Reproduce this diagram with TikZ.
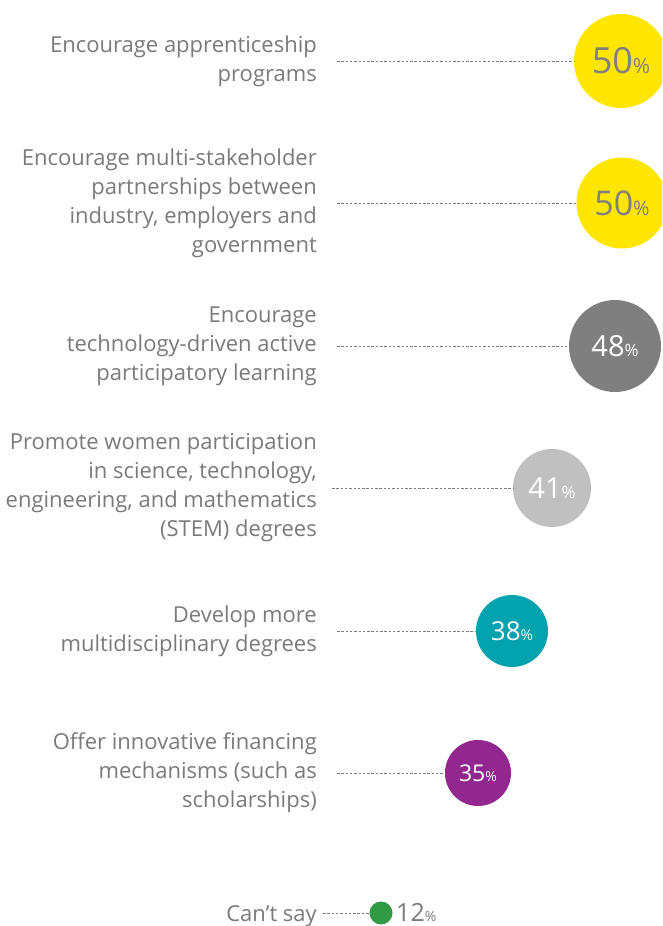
\documentclass[tikz,border=0pt]{standalone}
\usepackage{fontspec}
\setmainfont{Open Sans}
\usetikzlibrary{positioning}

\definecolor{eyyellow}{HTML}{FFE600}
\definecolor{darkgrey}{HTML}{7F7F7F}
\definecolor{lightgrey}{HTML}{C0C0C0}
\definecolor{eyteal}{HTML}{00A3AE}
\definecolor{eypurple}{HTML}{91278F}
\definecolor{eygreen}{HTML}{329A45}
\definecolor{txtgrey}{HTML}{7A7A7A}

\tikzset{
  lbl/.style={anchor=east, align=right, text=txtgrey, inner sep=0pt,
    font=\fontsize{22}{29}\selectfont},
  ball/.style={circle, fill=#1, inner sep=0pt, text=white},
  lead/.style={draw=txtgrey, dash pattern=on 2.5pt off 1.8pt, line width=0.7pt},
}
% number with a small percent sign
\newcommand{\pct}[3]{{\fontsize{#1}{#1}\selectfont #3}{\fontsize{#2}{#2}\selectfont\%}}

\begin{document}
\begin{tikzpicture}[x=1pt,y=-1pt]
  \useasboundingbox (0,0) rectangle (662,926);
  \clip (0,0) rectangle (662,926);

  % labels
  \node[lbl] (l1) at (317,61) {Encourage apprenticeship\\programs};
  \node[lbl] (l2) at (317,203) {Encourage multi-stakeholder\\partnerships between\\industry, employers and\\government};
  \node[lbl] (l3) at (317,346) {Encourage\\technology-driven active\\participatory learning};
  \node[lbl] (l4) at (317,488) {Promote women participation\\in science, technology,\\engineering, and mathematics\\(STEM) degrees};
  \node[lbl] (l5) at (317,631) {Develop more\\multidisciplinary degrees};
  \node[lbl] (l6) at (317,773) {Offer innovative financing\\mechanisms (such as\\scholarships)};
  \node[lbl, anchor=base east] (l7) at (317,921) {Can’t say};

  % circles
  \node[ball=eyyellow, minimum size=94pt, text=darkgrey] (c1) at (621,61) {\pct{36}{21}{50}};
  \node[ball=eyyellow, minimum size=91pt, text=darkgrey] (c2) at (622,203) {\pct{34}{20}{50}};
  \node[ball=darkgrey, minimum size=92pt] (c3) at (615,346) {\pct{29}{17}{48}};
  \node[ball=lightgrey, minimum size=78pt] (c4) at (552,488) {\pct{29}{17}{41}};
  \node[ball=eyteal, minimum size=72pt] (c5) at (512,631) {\pct{26}{15}{38}};
  \node[ball=eypurple, minimum size=66pt] (c6) at (478,773) {\pct{23}{14}{35}};
  \node[ball=eygreen, minimum size=23pt] (c7) at (381,913) {};
  \node[anchor=base west, inner sep=0pt, text=txtgrey] (v7) at (396,921) {\pct{25}{14}{12}};

  % leaders
  \draw[lead] ([xshift=20pt]l1.east) -- (c1.west);
  \draw[lead] ([xshift=20pt]l2.east) -- (c2.west);
  \draw[lead] ([xshift=20pt]l3.east) -- (c3.west);
  \draw[lead] ([xshift=15pt]l4.east) -- (c4.west);
  \draw[lead] ([xshift=20pt]l5.east) -- (c5.west);
  \draw[lead] ([xshift=20pt]l6.east) -- (c6.west);
  \draw[lead] ([xshift=6pt]l7.east |- c7) -- (c7.west);
\end{tikzpicture}
\end{document}
